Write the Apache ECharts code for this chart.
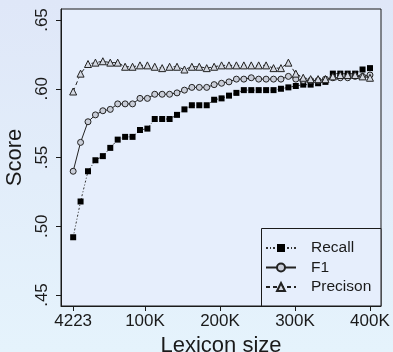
<!DOCTYPE html>
<html>
<head>
<meta charset="utf-8">
<script src="https://cdn.jsdelivr.net/npm/echarts@6/dist/echarts.min.js"></script>
<style>
  html, body { margin: 0; padding: 0; }
  #chart { width: 393px; height: 352px; }
</style>
</head>
<body>
<div id="chart"></div>
<script>
// lexicon sizes (x positions of the points)
const lexiconSizes = [4223, 14100, 24000, 33900, 43800, 53700, 63600, 73500, 83400, 93300,
  103200, 113000, 122900, 132800, 142700, 152600, 162500, 172400, 182300, 192200,
  202100, 212000, 221900, 231800, 241700, 251600, 261500, 271400, 281300, 291200,
  301100, 311000, 320900, 330800, 340600, 350500, 360400, 370300, 380200, 390100, 400000];

const recall = [.492, .518, .540, .548, .551, .557, .563, .565, .565, .570,
  .571, .578, .578, .578, .581, .585, .588, .588, .588, .592,
  .593, .595, .597, .599, .599, .599, .599, .599, .600, .601,
  .602, .603, .603, .604, .605, .611, .611, .611, .611, .614, .615];

const f1 = [.540, .561, .576, .581, .584, .585, .589, .589, .589, .593,
  .593, .596, .596, .596, .597, .599, .601, .601, .601, .603,
  .604, .605, .607, .607, .608, .607, .607, .607, .607, .609,
  .607, .606, .606, .606, .607, .608, .608, .608, .609, .609, .610];

const precision = [.598, .611, .618, .619, .620, .619, .619, .616, .616, .617,
  .617, .616, .615, .616, .616, .614, .616, .616, .615, .616,
  .617, .617, .617, .617, .617, .617, .617, .615, .615, .619,
  .611, .608, .607, .607, .607, .609, .610, .610, .610, .609, .608];

const xTicks = [4223, 100000, 200000, 300000, 400000];
const yTicks = [0.45, 0.50, 0.55, 0.60, 0.65];

const font = "'Liberation Sans', Arial, Helvetica, sans-serif";
const ink = '#1a1a1a';
const plotBg = '#e6eefc';

const pairs = ys => lexiconSizes.map((x, i) => [x, ys[i]]);

const chart = echarts.init(document.getElementById('chart'));

chart.setOption({
  animation: false,
  backgroundColor: new echarts.graphic.LinearGradient(0, 0, 0, 1, [
    { offset: 0, color: '#dfe7f8' },
    { offset: 1, color: '#e5f3fc' }
  ]),
  textStyle: { fontFamily: font },
  grid: {
    left: 61, top: 9, right: 12, bottom: 46,
    outerBoundsMode: 'none',
    show: true, backgroundColor: plotBg, borderColor: ink, borderWidth: 1
  },
  // legend frame, sits in the lower right corner of the plot
  graphic: [{
    type: 'rect',
    z: 3,
    shape: { x: 261.5, y: 228.5, width: 119.5, height: 77.5 },
    style: { fill: plotBg, stroke: ink, lineWidth: 1 }
  }],
  xAxis: {
    type: 'value',
    min: -12000,
    max: 414700,
    name: 'Lexicon size',
    nameLocation: 'middle',
    nameGap: 22,
    nameTextStyle: { fontSize: 22, color: ink, fontFamily: font },
    axisLine: { show: true, onZero: false, lineStyle: { color: ink, width: 1 } },
    axisTick: { show: true, length: 5, customValues: xTicks, lineStyle: { color: ink } },
    axisLabel: {
      customValues: xTicks,
      margin: 7,
      fontSize: 17,
      color: ink,
      fontFamily: font,
      formatter: v => (v === 4223 ? '4223' : (v / 1000) + 'K')
    },
    splitLine: { show: false }
  },
  yAxis: {
    type: 'value',
    min: 0.442,
    max: 0.658,
    name: 'Score',
    nameLocation: 'middle',
    nameGap: 31,
    nameTextStyle: { fontSize: 22, color: ink, fontFamily: font },
    axisLine: { show: true, onZero: false, lineStyle: { color: ink, width: 1 } },
    axisTick: { show: true, length: 5, customValues: yTicks, lineStyle: { color: ink } },
    axisLabel: {
      customValues: yTicks,
      rotate: 90,
      margin: 10,
      fontSize: 17,
      color: ink,
      fontFamily: font,
      formatter: v => v.toFixed(2).replace(/^0/, '')
    },
    splitLine: { show: false }
  },
  legend: {
    orient: 'vertical',
    left: 265,
    top: 239,
    z: 5,
    itemWidth: 30,
    itemHeight: 10,
    itemGap: 1.5,
    padding: 0,
    textStyle: { fontSize: 15.5, lineHeight: 18, color: ink, fontFamily: font, padding: [0, 0, 0, 10] },
    data: ['Recall', 'F1', 'Precison']
  },
  series: [
    {
      name: 'Recall',
      type: 'line',
      data: pairs(recall),
      symbol: 'rect',
      symbolSize: 6,
      itemStyle: { color: '#000' },
      lineStyle: { color: '#333', width: 1, type: [2, 2, 1, 2] }
    },
    {
      name: 'F1',
      type: 'line',
      data: pairs(f1),
      symbol: 'circle',
      symbolSize: 6,
      itemStyle: { color: '#c9cdd8', borderColor: '#222', borderWidth: 1 },
      lineStyle: { color: '#222', width: 1, type: 'solid' }
    },
    {
      name: 'Precison',
      type: 'line',
      data: pairs(precision),
      symbol: 'triangle',
      symbolSize: 7,
      itemStyle: { color: '#d4d8e2', borderColor: '#222', borderWidth: 1 },
      lineStyle: { color: '#222', width: 1, type: [4, 3] }
    }
  ]
});
</script>
</body>
</html>
